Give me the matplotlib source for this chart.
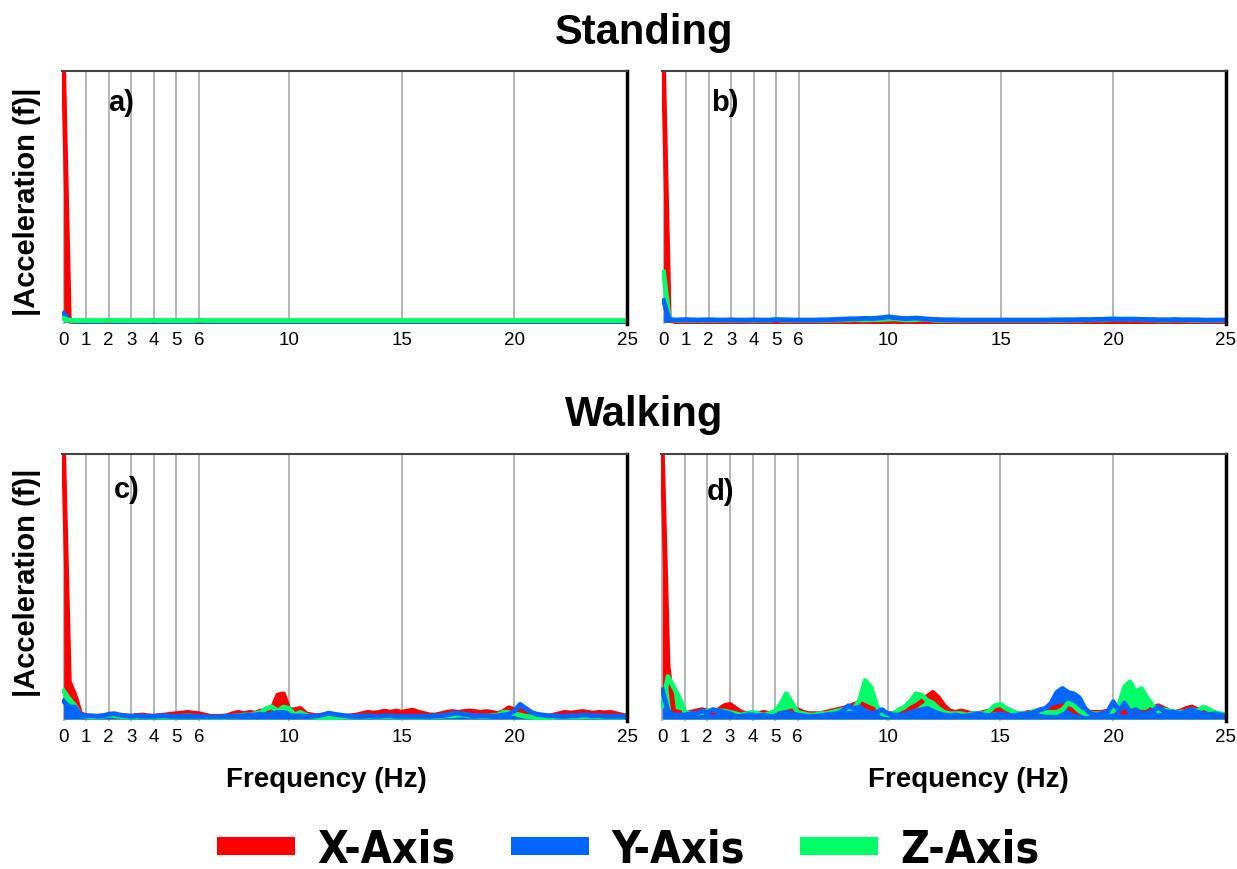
import numpy as np
import matplotlib
matplotlib.use("Agg")
import matplotlib.pyplot as plt
from matplotlib.lines import Line2D

plt.rcParams['font.family'] = ['Liberation Sans', 'DejaVu Sans']

# frequency grid (Hz), 0.25 Hz steps, 0..25
freq = np.arange(0, 25.01, 0.25)
tick_pos = [0, 1, 2, 3, 4, 5, 6, 10, 15, 20, 25]

series_names = ['X-Axis', 'Y-Axis', 'Z-Axis']
colors = {'X-Axis': '#ff0000', 'Y-Axis': '#0066ff', 'Z-Axis': '#00ff66'}

# |Acceleration(f)|, % of panel maximum
# a) standing 1
red_a = [100, 0.5, 0.3, 0.2, 0.2, 0.2, 0.2, 0.2, 0.2, 0.2, 0.2, 0.2, 0.2, 0.2, 0.2, 0.2, 0.2, 0.2, 0.2, 0.2,
         0.2, 0.2, 0.2, 0.2, 0.2, 0.2, 0.2, 0.2, 0.2, 0.2, 0.2, 0.2, 0.2, 0.2, 0.2, 0.2, 0.3, 0.3, 0.2, 0.2,
         0.2, 0.2, 0.2, 0.2, 0.2, 0.2, 0.2, 0.2, 0.2, 0.2, 0.2, 0.2, 0.2, 0.2, 0.2, 0.2, 0.2, 0.2, 0.2, 0.2,
         0.2, 0.2, 0.2, 0.2, 0.2, 0.2, 0.2, 0.2, 0.2, 0.2, 0.2, 0.2, 0.2, 0.2, 0.2, 0.2, 0.2, 0.2, 0.2, 0.2,
         0.2, 0.2, 0.2, 0.2, 0.2, 0.2, 0.2, 0.2, 0.2, 0.2, 0.2, 0.2, 0.2, 0.2, 0.2, 0.2, 0.2, 0.2, 0.2, 0.2,
         0.2]
green_a = [1.5, 0.8, 0.7, 0.7, 0.7, 0.7, 0.7, 0.7, 0.8, 0.7, 0.7, 0.7, 0.7, 0.7, 0.7, 0.7, 0.8, 0.7, 0.7, 0.7,
           0.7, 0.7, 0.7, 0.7, 0.8, 0.7, 0.7, 0.7, 0.7, 0.7, 0.7, 0.7, 0.7, 0.7, 0.7, 0.7, 0.7, 0.7, 0.7, 0.7,
           0.7, 0.7, 0.7, 0.7, 0.7, 0.7, 0.7, 0.7, 0.7, 0.7, 0.7, 0.7, 0.7, 0.7, 0.7, 0.7, 0.7, 0.7, 0.7, 0.7,
           0.7, 0.7, 0.7, 0.7, 0.7, 0.7, 0.7, 0.7, 0.7, 0.7, 0.7, 0.7, 0.7, 0.7, 0.7, 0.7, 0.7, 0.7, 0.7, 0.7,
           0.7, 0.7, 0.7, 0.7, 0.7, 0.7, 0.7, 0.7, 0.7, 0.7, 0.7, 0.7, 0.7, 0.7, 0.7, 0.7, 0.7, 0.7, 0.7, 0.7,
           0.7]
blue_a = [3.5, 1.0, 0.4, 0.4, 0.4, 0.4, 0.4, 0.4, 0.6, 0.4, 0.4, 0.4, 0.4, 0.4, 0.4, 0.4, 0.4, 0.4, 0.4, 0.4,
          0.4, 0.4, 0.4, 0.4, 0.6, 0.4, 0.4, 0.4, 0.4, 0.4, 0.4, 0.4, 0.4, 0.4, 0.4, 0.4, 0.4, 0.4, 0.4, 0.4,
          0.4, 0.4, 0.4, 0.4, 0.4, 0.4, 0.4, 0.4, 0.4, 0.4, 0.4, 0.4, 0.4, 0.4, 0.4, 0.4, 0.4, 0.4, 0.4, 0.4,
          0.4, 0.4, 0.4, 0.4, 0.4, 0.4, 0.4, 0.4, 0.4, 0.4, 0.4, 0.4, 0.4, 0.4, 0.4, 0.4, 0.4, 0.4, 0.4, 0.4,
          0.4, 0.4, 0.4, 0.4, 0.4, 0.4, 0.4, 0.4, 0.4, 0.4, 0.4, 0.4, 0.4, 0.4, 0.4, 0.4, 0.4, 0.4, 0.4, 0.4,
          0.4]

# b) standing 2
red_b = [100, 1, 0.3, 0.2, 0.2, 0.2, 0.2, 0.2, 0.2, 0.2, 0.2, 0.2, 0.2, 0.2, 0.2, 0.2, 0.2, 0.2, 0.2, 0.2,
         0.2, 0.2, 0.2, 0.2, 0.2, 0.2, 0.2, 0.2, 0.2, 0.2, 0.2, 0.2, 0.2, 0.2, 0.2, 0.2, 0.2, 0.2, 0.2, 0.2,
         0.3, 0.4, 0.2, 0.2, 0.2, 0.2, 0.2, 0.2, 0.2, 0.2, 0.2, 0.2, 0.2, 0.2, 0.2, 0.2, 0.2, 0.2, 0.2, 0.2,
         0.2, 0.2, 0.2, 0.2, 0.2, 0.2, 0.2, 0.2, 0.2, 0.2, 0.2, 0.2, 0.2, 0.2, 0.2, 0.2, 0.2, 0.2, 0.2, 0.2,
         0.2, 0.2, 0.2, 0.2, 0.2, 0.2, 0.2, 0.2, 0.2, 0.2, 0.2, 0.2, 0.2, 0.2, 0.2, 0.2, 0.2, 0.2, 0.2, 0.2,
         0.2]
green_b = [20, 1.5, 0.8, 0.8, 0.9, 0.8, 0.8, 0.8, 0.9, 0.8, 0.8, 0.8, 0.8, 0.8, 0.8, 0.8, 0.8, 0.8, 0.8, 0.8,
           1.3, 0.9, 0.8, 0.8, 0.8, 0.8, 0.8, 0.8, 0.8, 0.8, 0.9, 0.9, 1.0, 1.0, 1.1, 1.0, 1.0, 1.1, 1.1, 1.2,
           1.3, 1.4, 1.2, 1.0, 1.0, 1.1, 1.3, 1.2, 0.9, 0.8, 0.8, 0.8, 0.8, 0.8, 0.8, 0.8, 0.8, 0.8, 0.8, 0.8,
           0.8, 0.8, 0.8, 0.8, 0.8, 0.8, 0.8, 0.8, 0.8, 0.8, 0.8, 0.8, 0.9, 0.9, 0.9, 1.0, 1.0, 1.1, 1.0, 1.2,
           1.4, 1.3, 1.3, 1.2, 1.3, 1.1, 1.0, 1.0, 0.9, 0.9, 0.9, 1.0, 0.9, 0.9, 0.8, 0.8, 0.8, 0.8, 0.8, 0.8,
           0.8]
blue_b = [8.7, 1.2, 0.9, 1.0, 1.1, 1.0, 0.9, 1.0, 1.0, 1.0, 0.9, 0.9, 1.0, 0.9, 0.9, 0.9, 1.0, 0.9, 0.9, 0.9,
          1.0, 1.0, 1.0, 0.9, 0.9, 0.9, 0.9, 0.9, 1.0, 1.0, 1.1, 1.2, 1.3, 1.4, 1.4, 1.5, 1.6, 1.5, 1.7, 1.9,
          2.2, 1.9, 1.7, 1.5, 1.6, 1.7, 1.5, 1.3, 1.2, 1.1, 1.0, 1.0, 1.0, 0.9, 0.9, 0.9, 0.9, 0.9, 0.9, 0.9,
          0.9, 0.9, 0.9, 0.9, 0.9, 0.9, 0.9, 0.9, 0.9, 1.0, 1.0, 1.0, 1.0, 1.0, 1.1, 1.1, 1.1, 1.2, 1.2, 1.3,
          1.3, 1.2, 1.2, 1.3, 1.2, 1.2, 1.1, 1.1, 1.0, 1.0, 1.0, 1.1, 1.0, 1.0, 1.0, 1.0, 0.9, 0.9, 0.9, 0.9,
          0.9]

# c) walking 1
red_c = [100, 14, 9, 2, 1.2, 1, 1, 1.2, 1.5, 1.2, 1, 1.2, 1, 1.3, 1.5, 1.2, 1, 1.3, 1.5, 1.8,
         2, 2.2, 2.5, 2.2, 2, 1.5, 1, 1, 1, 1.2, 2, 2.5, 2, 2.5, 2.2, 3, 3, 4, 9, 9.5,
         3.5, 3.5, 4, 2, 1.5, 1.2, 1.5, 1.5, 1.2, 1.2, 1, 1.2, 1.5, 2, 2.5, 2.2, 2.5, 3, 2.5, 3,
         2.5, 3, 3.3, 2.5, 2, 1.5, 1.5, 2, 2.5, 2.8, 2.5, 2.8, 3, 2.8, 2.5, 2.8, 2.5, 2, 2.8, 4.2,
         3.5, 3, 2, 1.5, 1.2, 1, 1, 1.5, 2, 2.5, 2.2, 2.5, 2.8, 2.5, 2.2, 2.5, 2.3, 2.5, 2, 1.5,
         1]
green_c = [10.5, 7.5, 5, 1.5, 1, 0.8, 0.8, 1, 1.5, 1.2, 1, 0.8, 0.8, 0.8, 1, 0.8, 0.8, 0.8, 0.8, 0.8,
           0.8, 1, 1.2, 1, 0.8, 0.5, 0.5, 0.5, 0.5, 0.8, 1, 1.2, 1.5, 1.5, 2, 2.5, 4, 4.5, 3, 4.5,
           4, 1.5, 2.5, 1.5, 0.8, 0.6, 0.5, 0.5, 0.5, 0.6, 0.8, 0.8, 1, 1, 1, 0.8, 0.8, 0.8, 0.8, 0.8,
           0.8, 0.8, 0.8, 0.8, 0.8, 1, 1, 1, 1.2, 1.2, 1.5, 1.5, 1.2, 1.2, 1, 1, 1.2, 1.5, 2.5, 2.5,
           2, 1.5, 1, 0.8, 0.5, 0.5, 0.5, 0.6, 0.8, 0.8, 0.8, 0.8, 0.8, 1, 1, 0.8, 0.8, 0.8, 0.8, 0.8,
           0.8]
blue_c = [6.7, 4.5, 4.5, 1.5, 1.2, 1.2, 1, 1.2, 1.8, 2, 1.5, 1.2, 1, 1.2, 1, 1, 1, 1.2, 1.2, 1,
          1, 1, 1.2, 1, 1, 0.8, 0.8, 0.8, 0.8, 1, 1, 1.2, 1.2, 1.5, 1.5, 1.8, 1.5, 2, 2.5, 2.5,
          1.5, 1, 1.2, 1, 1, 1.2, 1.5, 2.2, 1.8, 1.5, 1.2, 1, 1, 1, 1.2, 1, 1, 1.2, 1.2, 1,
          1, 1, 1, 1, 1, 1, 1.2, 1.2, 1.5, 2, 2.2, 1.8, 1.5, 1.2, 1.2, 1.2, 1, 1.2, 1.5, 1.8,
          3, 5.5, 4, 2.5, 1.8, 1.5, 1.2, 1.2, 1, 1, 1.2, 1.2, 1.5, 1.5, 1.2, 1.2, 1, 1, 1, 1,
          0.8]

# d) walking 2
red_d = [100, 20, 3, 2.5, 2, 2.5, 3, 3.5, 3, 2.5, 3.5, 5, 5.5, 4, 2.5, 2, 2, 2, 2.5, 2,
         2, 2, 2.5, 3, 3.5, 2.5, 2, 2, 2, 2.5, 3, 3.5, 4, 4.5, 5.5, 6, 5, 4, 3.5, 2.5,
         2, 2, 2.5, 3, 4, 5, 6.5, 8.5, 10, 8, 5, 3, 2.5, 3, 2.5, 2, 2, 2.5, 3, 3.5,
         3.5, 3, 2.5, 2, 2, 2.5, 2.5, 3, 3, 4, 4.5, 5, 4.5, 3, 2.5, 2.5, 2.5, 2.5, 2.5, 3,
         3.5, 3, 2.5, 3, 3, 2.5, 2.5, 4, 5, 4, 3, 2.5, 3, 4, 4.5, 3.5, 3, 2.5, 2, 1.5,
         1]
green_d = [5, 16, 12, 8, 2.5, 2, 2, 2.5, 3, 3.5, 3, 3, 2.5, 2, 1.5, 2, 2.5, 2, 1.5, 2,
           3, 5.5, 9.5, 6, 2.5, 2, 1.5, 1.5, 2, 2, 2.5, 3, 3.5, 4, 4, 7, 14.5, 12, 5, 2,
           1.5, 2, 3.5, 4.5, 6.5, 9.5, 9, 7, 6, 4, 2.5, 2, 2, 2, 1.5, 2, 2, 2, 3, 5,
           5.5, 4, 3, 2, 2, 2, 3, 3, 2.5, 2.5, 2.5, 3.5, 6, 5, 3, 2, 2, 2, 2, 2.5,
           3, 5, 12, 14, 10, 11.5, 8, 5, 3, 3.5, 3, 2.5, 2.5, 3, 3.5, 3, 4.5, 3.5, 2.5, 2,
           1.5]
blue_d = [11, 3, 1.5, 1.5, 1.5, 2, 2, 3, 2.5, 3.5, 3, 2.5, 2, 1, 1, 1.5, 1.5, 1.2, 1.5, 1,
          1, 2, 2.5, 2, 1.5, 1.2, 1, 1, 1.2, 1.5, 1.8, 2, 3, 5, 4, 4.5, 3, 2, 2.5, 3.5,
          2, 1.5, 1.5, 1.5, 2.5, 3, 3.5, 4, 3, 2, 1.5, 1.2, 1.5, 1, 1.2, 1.5, 2, 1.5, 1.2, 1.5,
          2, 1.5, 1.2, 1.5, 1.8, 2, 2.5, 3.5, 4, 6, 10, 11.5, 10, 9.5, 8, 4, 2, 1.5, 2, 2.5,
          6.5, 3, 6, 2.5, 3.5, 2, 2, 3, 4.5, 3, 2.5, 2.5, 2, 3, 3.5, 2.5, 2, 1.5, 2, 1.5,
          1]

# label, axes rect, data, label position, draw order
panels = [
    ('a)', [0.050, 0.626, 0.457, 0.291], red_a, blue_a, green_a, (0.104, 0.88), ['X-Axis', 'Y-Axis', 'Z-Axis']),
    ('b)', [0.535, 0.626, 0.456, 0.291], red_b, blue_b, green_b, (0.112, 0.88), ['X-Axis', 'Z-Axis', 'Y-Axis']),
    ('c)', [0.050, 0.170, 0.457, 0.307], red_c, blue_c, green_c, (0.115, 0.87), ['X-Axis', 'Z-Axis', 'Y-Axis']),
    ('d)', [0.534, 0.170, 0.457, 0.307], red_d, blue_d, green_d, (0.106, 0.86), ['X-Axis', 'Z-Axis', 'Y-Axis']),
]

fig = plt.figure(figsize=(12.37, 8.70), dpi=100)

for label, rect, red, blue, green, lpos, order in panels:
    ax = fig.add_axes(rect)
    data = {'X-Axis': red, 'Y-Axis': blue, 'Z-Axis': green}
    for name in order:
        vals = data[name]
        ax.fill_between(freq, vals, 0, color=colors[name], lw=0)
        ax.plot(freq, vals, color=colors[name], lw=3.5, solid_joinstyle='round')
    ax.set_xlim(-0.08, 25)
    ax.set_ylim(-0.8, 100)
    ax.set_xticks(tick_pos)
    ax.set_yticks([])
    ax.tick_params(axis='x', length=0, pad=5, labelsize=13.5)
    ax.grid(axis='x', color='#a8a8a8', lw=1.2)
    ax.set_axisbelow(True)
    for s in ['left', 'bottom']:
        ax.spines[s].set_visible(False)
    ax.spines['top'].set_color('#444444')
    ax.spines['top'].set_linewidth(1.5)
    ax.spines['right'].set_color('black')
    ax.spines['right'].set_linewidth(2.5)
    ax.text(lpos[0], lpos[1], label, transform=ax.transAxes, ha='center', va='center',
            fontsize=21, fontweight='bold')

fig.text(0.521, 0.962, 'Standing', ha='center', va='center', fontsize=30, fontweight='bold')
fig.text(0.521, 0.523, 'Walking', ha='center', va='center', fontsize=30, fontweight='bold')

for yc in [0.768, 0.330]:
    fig.text(0.022, yc, '|Acceleration (f)|', rotation=90, ha='center', va='center',
             fontsize=21, fontweight='bold')

for xc in [0.264, 0.783]:
    fig.text(xc, 0.103, 'Frequency (Hz)', ha='center', va='center', fontsize=20, fontweight='bold')

handles = [Line2D([0], [0], color=colors[n], lw=13, solid_capstyle='butt') for n in series_names]
fig.legend(handles, series_names, loc='center', bbox_to_anchor=(0.508, 0.023), ncol=3,
           frameon=False, handlelength=1.75, handletextpad=0.5, columnspacing=1.25,
           borderpad=0.1, prop={'family': 'DejaVu Sans', 'stretch': 'condensed',
                                'weight': 'bold', 'size': 32})

fig.savefig('out.png', dpi=100)
